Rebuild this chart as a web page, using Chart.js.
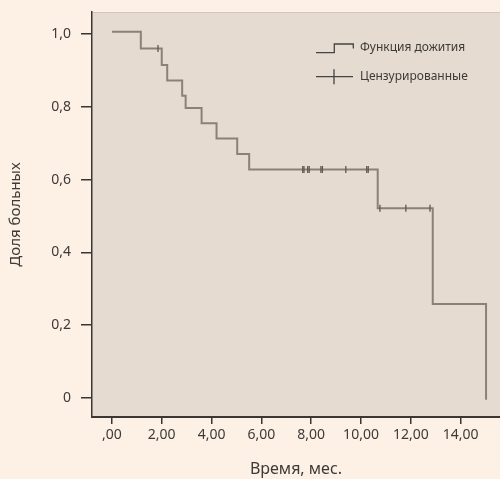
<!DOCTYPE html>
<html>
<head>
<meta charset="utf-8">
<script src="https://cdn.jsdelivr.net/npm/chart.js@4/dist/chart.umd.min.js"></script>
<style>
  html, body { margin: 0; padding: 0; background: #FDF0E4; }
  #c { display: block; }
</style>
</head>
<body>
<canvas id="c" width="500" height="479"></canvas>
<script>
// ---- Data ----
const stepTimes    = [0, 1.16, 2.0, 2.22, 2.82, 2.96, 3.6, 4.2, 5.03, 5.51, 10.67, 12.88, 15.02];
const stepSurvival = [1.006, 0.96, 0.915, 0.872, 0.83, 0.797, 0.755, 0.713, 0.67, 0.628, 0.521, 0.258, -0.005];
const censorTimes    = [1.85, 7.66, 7.71, 7.86, 7.92, 8.39, 8.45, 9.39, 10.23, 10.29, 10.76, 11.8, 12.77];
const censorSurvival = [0.96, 0.628, 0.628, 0.628, 0.628, 0.628, 0.628, 0.628, 0.628, 0.628, 0.521, 0.521, 0.521];
const xTickValues = [0, 2, 4, 6, 8, 10, 12, 14];
const xTickLabels = [",00", "2,00", "4,00", "6,00", "8,00", "10,00", "12,00", "14,00"];
const yTickValues = [0, 0.2, 0.4, 0.6, 0.8, 1.0];
const yTickLabels = ["0", "0,2", "0,4", "0,6", "0,8", "1,0"];
const legendLabels = ["Функция дожития", "Цензурированные"];
const xTitle = "Время, мес.";
const yTitle = "Доля больных";

const FONT = "'Noto Sans', 'Open Sans', sans-serif";
const TEXT = '#3d3a38';
const AXIS = '#3a3633';

const bgPlugin = {
  id: 'bg',
  beforeDraw(chart) {
    const {ctx, chartArea: a} = chart;
    ctx.save();
    ctx.fillStyle = '#FDF0E4';
    ctx.fillRect(0, 0, chart.width, chart.height);
    ctx.fillStyle = '#E6DBD0';
    ctx.fillRect(a.left, a.top, a.right - a.left, a.bottom - a.top);
    ctx.strokeStyle = '#D3C7BB';
    ctx.lineWidth = 1;
    ctx.beginPath();
    ctx.moveTo(a.left, a.top + 0.5);
    ctx.lineTo(a.right, a.top + 0.5);
    ctx.stroke();
    ctx.restore();
  }
};

const legendPlugin = {
  id: 'kmLegend',
  afterDraw(chart) {
    const {ctx, chartArea: a} = chart;
    const x0 = a.right - 184;
    const y0 = a.top + 32;
    ctx.save();
    ctx.strokeStyle = '#444';
    ctx.lineWidth = 1.3;
    // step icon
    ctx.beginPath();
    ctx.moveTo(x0, y0 + 8.7);
    ctx.lineTo(x0 + 18.3, y0 + 8.7);
    ctx.lineTo(x0 + 18.3, y0);
    ctx.lineTo(x0 + 37.3, y0);
    ctx.lineTo(x0 + 37.3, y0 + 4.5);
    ctx.stroke();
    // cross icon
    const yc = y0 + 32.7;
    ctx.beginPath();
    ctx.moveTo(x0, yc);
    ctx.lineTo(x0 + 37, yc);
    ctx.moveTo(x0 + 18, yc - 7.5);
    ctx.lineTo(x0 + 18, yc + 7.5);
    ctx.stroke();
    ctx.fillStyle = TEXT;
    ctx.font = "12px " + FONT;
    ctx.textBaseline = 'middle';
    ctx.textAlign = 'left';
    ctx.fillText(legendLabels[0], x0 + 44, y0 + 4);
    ctx.fillText(legendLabels[1], x0 + 44, yc);
    ctx.restore();
  }
};

const stepData = stepTimes.map((t, i) => ({x: t, y: stepSurvival[i]}));
const censorData = censorTimes.map((t, i) => ({x: t, y: censorSurvival[i]}));

new Chart(document.getElementById('c'), {
  type: 'line',
  data: {
    datasets: [
      {
        label: legendLabels[0],
        data: stepData,
        stepped: 'before',
        borderColor: '#8A817A',
        borderWidth: 2,
        pointRadius: 0,
        fill: false,
        order: 2
      },
      {
        label: legendLabels[1],
        type: 'scatter',
        data: censorData,
        showLine: false,
        pointStyle: 'line',
        rotation: 90,
        pointRadius: 3.5,
        pointBorderWidth: 1.3,
        borderColor: '#5E5753',
        pointBorderColor: '#5E5753',
        order: 1
      }
    ]
  },
  options: {
    responsive: false,
    animation: false,
    events: [],
    layout: { autoPadding: false, padding: { top: 12, right: 0, left: 0, bottom: 0 } },
    plugins: { legend: { display: false }, tooltip: { enabled: false } },
    scales: {
      x: {
        type: 'linear',
        min: -0.8,
        max: 15.58,
        afterBuildTicks(s) { s.ticks = xTickValues.map(v => ({value: v})); },
        afterFit(s) { s.height = 62; s.paddingLeft = 0; s.paddingRight = 0; },
        ticks: {
          autoSkip: false,
          maxRotation: 0,
          padding: 3,
          color: TEXT,
          font: { family: FONT, size: 14 },
          callback: (v) => { const i = xTickValues.indexOf(v); return i >= 0 ? xTickLabels[i] : ''; }
        },
        grid: { drawOnChartArea: false, drawTicks: true, tickLength: 7, color: AXIS, lineWidth: 1.5 },
        border: { display: true, color: AXIS, width: 2 },
        title: { display: true, text: xTitle, color: TEXT, font: { family: FONT, size: 16 }, padding: { top: 0, bottom: 0 } }
      },
      y: {
        type: 'linear',
        min: -0.0522,
        max: 1.0604,
        afterBuildTicks(s) { s.ticks = yTickValues.map(v => ({value: v})); },
        afterFit(s) { s.width = 92; s.paddingTop = 0; s.paddingBottom = 0; },
        ticks: {
          autoSkip: false,
          padding: 10,
          color: TEXT,
          font: { family: FONT, size: 14 },
          callback: (v) => { const i = yTickValues.findIndex(t => Math.abs(t - v) < 1e-9); return i >= 0 ? yTickLabels[i] : ''; }
        },
        grid: { drawOnChartArea: false, drawTicks: true, tickLength: 11, color: AXIS, lineWidth: 1.5 },
        border: { display: true, color: AXIS, width: 1.5 },
        title: { display: true, text: yTitle, color: TEXT, font: { family: FONT, size: 15 }, padding: { top: 7, bottom: 0 } }
      }
    }
  },
  plugins: [bgPlugin, legendPlugin]
});
</script>
</body>
</html>
